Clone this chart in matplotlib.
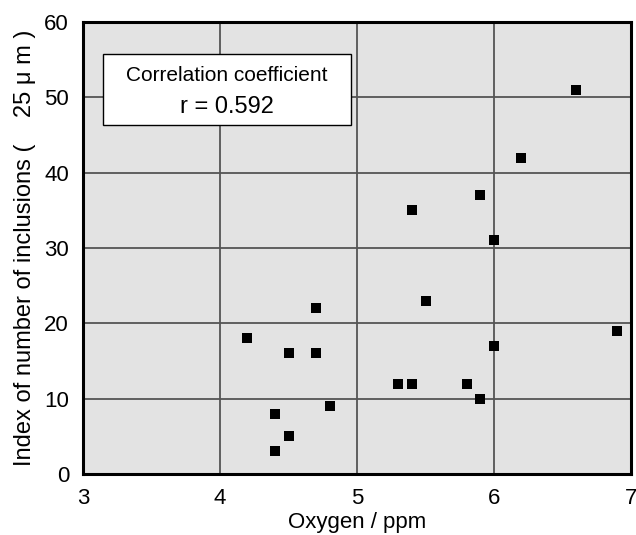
import matplotlib
matplotlib.use("Agg")
import matplotlib.pyplot as plt
from matplotlib.patches import Rectangle

plt.rcParams['font.family'] = ['Liberation Sans', 'DejaVu Sans']

oxygen = [6.6, 6.2, 5.9, 5.4, 6.0, 5.5, 4.7, 6.9, 4.2, 4.5, 4.7, 6.0,
          5.3, 5.4, 5.8, 5.9, 4.8, 4.4, 4.5, 4.4]
inclusions = [51, 42, 37, 35, 31, 23, 22, 19, 18, 16, 16, 17,
              12, 12, 12, 10, 9, 8, 5, 3]
x_ticks = [3, 4, 5, 6, 7]
y_ticks = [0, 10, 20, 30, 40, 50, 60]

fig = plt.figure(figsize=(6.36, 5.35), dpi=100)
ax = fig.add_axes([83/636, 1-474/535, 548/636, 452/535])
ax.set_facecolor('#e3e3e3')
ax.set_xlim(3, 7)
ax.set_ylim(0, 60)
ax.set_xticks(x_ticks)
ax.set_yticks(y_ticks)
ax.tick_params(length=0, labelsize=16, pad=10)
ax.grid(True, color='#555555', linewidth=1.3)
ax.set_axisbelow(True)
for s in ax.spines.values():
    s.set_linewidth(2.2)
    s.set_color('black')

ax.scatter(oxygen, inclusions, marker='s', s=42, color='black', zorder=3, linewidths=0)

ax.add_patch(Rectangle((0.0365, 0.772), 0.4525, 0.157, transform=ax.transAxes,
                       facecolor='white', edgecolor='black', linewidth=1.0, zorder=4))
ax.text(0.263, 0.881, 'Correlation coefficient', transform=ax.transAxes,
        ha='center', va='center', fontsize=15, zorder=5)
ax.text(0.263, 0.812, 'r = 0.592', transform=ax.transAxes,
        ha='center', va='center', fontsize=17, zorder=5)

ax.set_xlabel('Oxygen / ppm', fontsize=16, labelpad=2)
ax.set_ylabel('Index of number of inclusions (    25 \u03bc m )', fontsize=17, labelpad=6)

fig.savefig('out.png', dpi=100)
